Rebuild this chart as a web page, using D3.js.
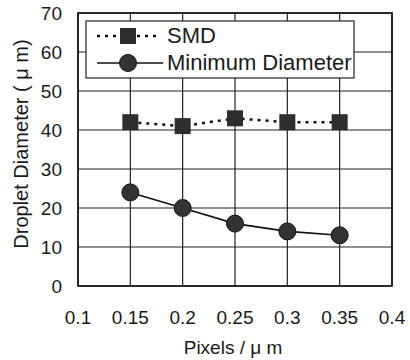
<!DOCTYPE html>
<html>
<head>
<meta charset="utf-8">
<script src="https://cdn.jsdelivr.net/npm/d3@7"></script>
<style>
  body { margin: 0; background: #fff; }
  text { font-family: "Liberation Sans", Arial, sans-serif; fill: #1a1a1a; }
</style>
</head>
<body>
<div id="chart"></div>
<script>
var pixels = [0.15, 0.2, 0.25, 0.3, 0.35]
var smd = [42, 41, 43, 42, 42]
var minDiameter = [24, 20, 16, 14, 13]
var xTicks = [0.1, 0.15, 0.2, 0.25, 0.3, 0.35, 0.4]
var yTicks = [0, 10, 20, 30, 40, 50, 60, 70]
var seriesNames = ['SMD', 'Minimum Diameter']

var width = 410, height = 360
var margin = {left: 78, right: 18, top: 13, bottom: 74}

var svg = d3.select('#chart').append('svg')
  .attr('width', width).attr('height', height)

var x = d3.scaleLinear().domain([0.1, 0.4]).range([margin.left, width - margin.right])
var y = d3.scaleLinear().domain([0, 70]).range([height - margin.bottom, margin.top])

// grid
svg.append('g').selectAll('line').data(xTicks).join('line')
  .attr('x1', d => x(d)).attr('x2', d => x(d))
  .attr('y1', y(0)).attr('y2', y(70))
  .attr('stroke', '#222').attr('stroke-width', 1.2)
svg.append('g').selectAll('line').data(yTicks).join('line')
  .attr('x1', x(0.1)).attr('x2', x(0.4))
  .attr('y1', d => y(d)).attr('y2', d => y(d))
  .attr('stroke', '#222').attr('stroke-width', 1.2)
svg.append('rect')
  .attr('x', x(0.1)).attr('y', y(70))
  .attr('width', x(0.4) - x(0.1)).attr('height', y(0) - y(70))
  .attr('fill', 'none').attr('stroke', '#111').attr('stroke-width', 1.6)

// tick labels
svg.append('g').selectAll('text').data(yTicks).join('text')
  .attr('x', 62).attr('y', d => y(d) + 7)
  .attr('text-anchor', 'end').attr('font-size', 19)
  .text(d => d)
svg.append('g').selectAll('text').data(xTicks).join('text')
  .attr('x', d => x(d)).attr('y', 324)
  .attr('text-anchor', 'middle').attr('font-size', 19)
  .text(d => d)

// axis titles
svg.append('text').attr('x', 233).attr('y', 354)
  .attr('text-anchor', 'middle').attr('font-size', 19)
  .text('Pixels / μ m')
svg.append('text')
  .attr('transform', 'translate(28,144) rotate(-90)')
  .attr('text-anchor', 'middle').attr('font-size', 20)
  .text('Droplet Diameter ( μ m)')

// series
var smdData = pixels.map((p, i) => ({x: p, y: smd[i]}))
var minData = pixels.map((p, i) => ({x: p, y: minDiameter[i]}))
var line = d3.line().x(d => x(d.x)).y(d => y(d.y))

svg.append('path').attr('d', line(smdData))
  .attr('fill', 'none').attr('stroke', '#111').attr('stroke-width', 2.5)
  .attr('stroke-dasharray', '3,5')
svg.append('path').attr('d', line(minData))
  .attr('fill', 'none').attr('stroke', '#111').attr('stroke-width', 1.6)

var sq = 16
svg.append('g').selectAll('rect').data(smdData).join('rect')
  .attr('x', d => x(d.x) - sq / 2).attr('y', d => y(d.y) - sq / 2)
  .attr('width', sq).attr('height', sq)
  .attr('fill', '#2e2e2e')
svg.append('g').selectAll('circle').data(minData).join('circle')
  .attr('cx', d => x(d.x)).attr('cy', d => y(d.y)).attr('r', 8.5)
  .attr('fill', '#333').attr('stroke', '#111').attr('stroke-width', 1)

// legend
var lg = svg.append('g')
lg.append('rect').attr('x', 86).attr('y', 21).attr('width', 268).attr('height', 57)
  .attr('fill', '#fff').attr('stroke', '#222').attr('stroke-width', 1.2)
lg.append('line').attr('x1', 97).attr('x2', 159).attr('y1', 36).attr('y2', 36)
  .attr('stroke', '#111').attr('stroke-width', 2.5).attr('stroke-dasharray', '3,5')
lg.append('rect').attr('x', 128 - sq / 2).attr('y', 36 - sq / 2)
  .attr('width', sq).attr('height', sq).attr('fill', '#2e2e2e')
lg.append('line').attr('x1', 97).attr('x2', 163).attr('y1', 63).attr('y2', 63)
  .attr('stroke', '#111').attr('stroke-width', 1.6)
lg.append('circle').attr('cx', 128).attr('cy', 63).attr('r', 8.5)
  .attr('fill', '#333').attr('stroke', '#111')
lg.selectAll('text.lab').data(seriesNames).join('text')
  .attr('class', 'lab')
  .attr('x', 167).attr('y', (d, i) => 43 + i * 27)
  .attr('font-size', 22)
  .text(d => d)
</script>
</body>
</html>
